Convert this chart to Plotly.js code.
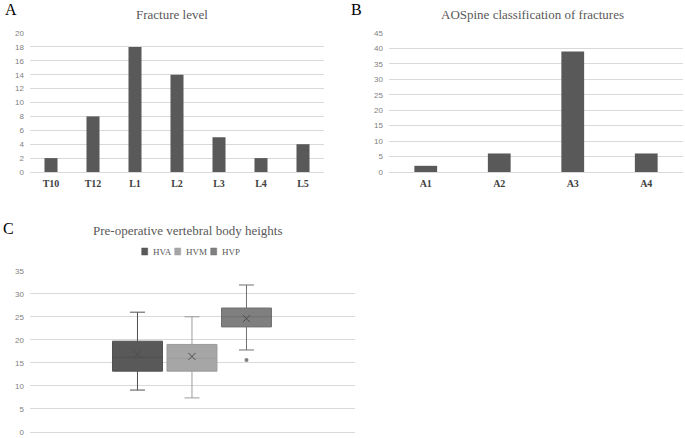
<!DOCTYPE html>
<html>
<head>
<meta charset="utf-8">
<script src="https://cdn.plot.ly/plotly-3.0.1.min.js"></script>
<style>html,body{margin:0;padding:0;background:#fff;}#chart{width:685px;height:438px;}</style>
</head>
<body>
<div id="chart"></div>
<script>
// ---- Data ----
const fractureLevels = ['T10', 'T12', 'L1', 'L2', 'L3', 'L4', 'L5'];
const fractureCounts = [2, 8, 18, 14, 5, 2, 4];

const aoClasses = ['A1', 'A2', 'A3', 'A4'];
const aoCounts = [2, 6, 39, 6];

const heightSeries = ['HVA', 'HVM', 'HVP'];
const heightLowerFence = [9.1, 7.4, 17.8];
const heightQ1 = [13.2, 13.2, 22.8];
const heightMedian = [16.2, 16.0, 25.0];
const heightQ3 = [19.7, 19.0, 26.9];
const heightUpperFence = [26.0, 25.0, 31.9];
const heightMean = [16.9, 16.4, 24.6];
const heightOutliers = [[], [], [15.6]];

// ---- Styles ----
const W = 685, H = 438;
const MB = 6; // bottom margin so the lowest tick label is kept
const HP = H - MB;
const px = v => v / W;            // figure px -> paper x
const py = v => (H - MB - v) / HP; // figure px -> paper y
const barColor = '#595959';
const boxFill = ['#595959', '#a6a6a6', '#7f7f7f'];
const boxLine = ['#505050', '#9c9c9c', '#707070'];
const gridColor = '#d9d9d9';
const SERIF = 'Liberation Serif';
const tickFont = {family: 'Liberation Sans', size: 8, color: '#7f7f7f'};
const catFont = {family: SERIF, size: 10, color: '#404040', weight: 'bold'};
const titleFont = {family: SERIF, size: 13, color: '#595959'};
const letterFont = {family: SERIF, size: 16, color: '#000000'};

const traces = [];
traces.push({type: 'bar', x: fractureLevels, y: fractureCounts, xaxis: 'x', yaxis: 'y',
  marker: {color: barColor}, showlegend: false});
traces.push({type: 'bar', x: aoClasses, y: aoCounts, xaxis: 'x2', yaxis: 'y2',
  marker: {color: barColor}, showlegend: false});

heightSeries.forEach((name, i) => {
  const pos = i - 1;
  traces.push({type: 'box', name: name, x: [pos], xaxis: 'x3', yaxis: 'y3',
    q1: [heightQ1[i]], median: [heightMedian[i]], q3: [heightQ3[i]],
    lowerfence: [heightLowerFence[i]], upperfence: [heightUpperFence[i]],
    width: 0.917, whiskerwidth: 0.3,
    fillcolor: boxFill[i], line: {color: boxLine[i], width: 1},
    boxpoints: false, showlegend: false});
  traces.push({type: 'scatter', mode: 'markers', x: [pos], y: [heightMean[i]],
    xaxis: 'x3', yaxis: 'y3', showlegend: false,
    marker: {symbol: 'x-thin-open', size: 7, color: '#4d4d4d', line: {color: '#4d4d4d', width: 1}}});
  if (heightOutliers[i].length) {
    traces.push({type: 'scatter', mode: 'markers', x: heightOutliers[i].map(() => pos),
      y: heightOutliers[i], xaxis: 'x3', yaxis: 'y3', showlegend: false,
      marker: {symbol: 'circle', size: 4, color: boxFill[i]}});
  }
});

const yCommon = {showgrid: true, gridcolor: gridColor, gridwidth: 1, zeroline: true,
  zerolinecolor: gridColor, zerolinewidth: 1, showline: false, tickfont: tickFont,
  ticks: '', ticklabelstandoff: 5, fixedrange: true};

// Manual legend for panel C
const legendSquares = [[141.7, 147.7], [174.7, 180.7], [210.7, 216.7]];
const legendTextX = [151, 184, 220];
const shapes = heightSeries.map((n, i) => ({type: 'rect', xref: 'paper', yref: 'paper',
  x0: px(legendSquares[i][0]), x1: px(legendSquares[i][1]), y0: py(255), y1: py(248),
  fillcolor: boxFill[i], line: {color: boxLine[i], width: 0.5}}));

const annotations = [
  {text: 'A', x: px(3), y: py(10), xanchor: 'left', yanchor: 'middle', font: letterFont},
  {text: 'Fracture level', x: px(172), y: py(15), xanchor: 'center', yanchor: 'middle', font: titleFont},
  {text: 'B', x: px(349), y: py(10), xanchor: 'left', yanchor: 'middle', font: letterFont},
  {text: 'AOSpine classification of fractures', x: px(532), y: py(15), xanchor: 'center', yanchor: 'middle', font: titleFont},
  {text: 'C', x: px(1), y: py(228), xanchor: 'left', yanchor: 'middle', font: letterFont},
  {text: 'Pre-operative vertebral body heights', x: px(188), y: py(230), xanchor: 'center', yanchor: 'middle', font: titleFont}
].map(a => Object.assign({xref: 'paper', yref: 'paper', showarrow: false}, a));
heightSeries.forEach((n, i) => annotations.push({xref: 'paper', yref: 'paper', showarrow: false,
  text: n, x: px(legendTextX[i]), y: py(251.5), xanchor: 'left', yanchor: 'middle',
  font: {family: SERIF, size: 9, color: '#595959'}}));

const layout = {
  width: W, height: H, margin: {l: 0, r: 0, t: 0, b: MB},
  paper_bgcolor: '#ffffff', plot_bgcolor: '#ffffff',
  bargap: 0.69, showlegend: false,
  xaxis: {domain: [px(30), px(324)], anchor: 'y', tickfont: catFont, ticks: '',
    ticklabelstandoff: 4, showgrid: false, showline: false, fixedrange: true},
  yaxis: Object.assign({}, yCommon, {domain: [py(172), py(33)], anchor: 'x', range: [0, 20], dtick: 2}),
  xaxis2: {domain: [px(389), px(683)], anchor: 'y2', tickfont: catFont, ticks: '',
    ticklabelstandoff: 4, showgrid: false, showline: false, fixedrange: true},
  yaxis2: Object.assign({}, yCommon, {domain: [py(172), py(33)], anchor: 'x2', range: [0, 45], dtick: 5}),
  xaxis3: {domain: [px(30), px(355)], anchor: 'y3', range: [-2.972, 2.991],
    showticklabels: false, showgrid: false, zeroline: false, showline: false, ticks: '', fixedrange: true},
  yaxis3: Object.assign({}, yCommon, {domain: [py(432), py(270.7)], anchor: 'x3', range: [0, 35], dtick: 5}),
  shapes: shapes,
  annotations: annotations
};

Plotly.newPlot('chart', traces, layout, {displayModeBar: false, staticPlot: true});
</script>
</body>
</html>
